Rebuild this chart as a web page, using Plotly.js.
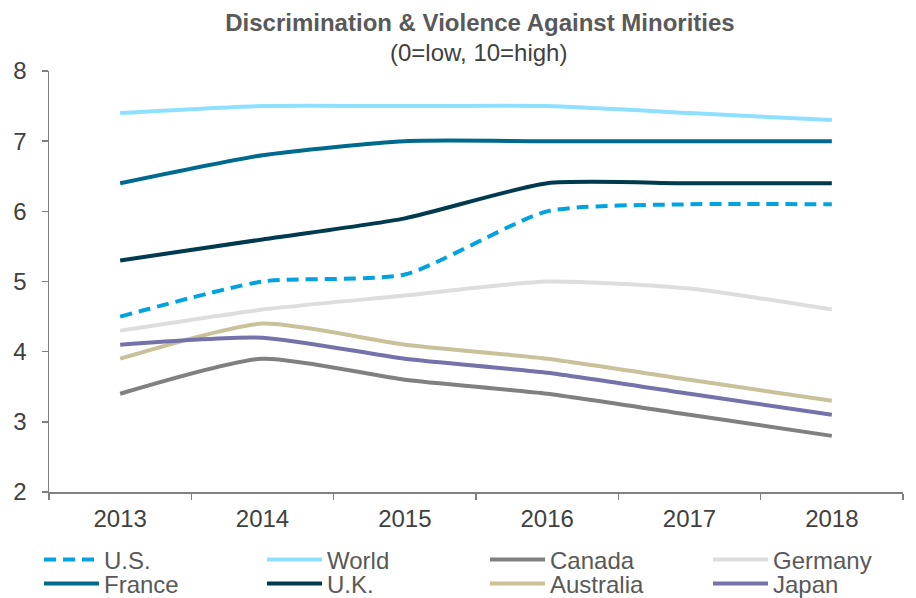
<!DOCTYPE html>
<html><head><meta charset="utf-8">
<script src="https://cdn.plot.ly/plotly-3.0.1.min.js"></script>
<style>body{margin:0;padding:0;background:#fff}#chart{width:916px;height:598px}</style>
</head><body><div id="chart"></div>
<script>
const years = ["2013","2014","2015","2016","2017","2018"];
const seriesNames = ["U.S.","World","Canada","Germany","France","U.K.","Australia","Japan"];
const usVals        = [4.5, 5.0, 5.1, 6.0, 6.1, 6.1];
const worldVals     = [7.4, 7.5, 7.5, 7.5, 7.4, 7.3];
const canadaVals    = [3.4, 3.9, 3.6, 3.4, 3.1, 2.8];
const germanyVals   = [4.3, 4.6, 4.8, 5.0, 4.9, 4.6];
const franceVals    = [6.4, 6.8, 7.0, 7.0, 7.0, 7.0];
const ukVals        = [5.3, 5.6, 5.9, 6.4, 6.4, 6.4];
const australiaVals = [3.9, 4.4, 4.1, 3.9, 3.6, 3.3];
const japanVals     = [4.1, 4.2, 3.9, 3.7, 3.4, 3.1];
const seriesValues = [usVals, worldVals, canadaVals, germanyVals, franceVals, ukVals, australiaVals, japanVals];
const colors = ["#00A3E0","#8FDFFF","#808080","#DDDDDD","#006A8E","#003A4F","#C8C19A","#7472A8"];

const legendIds = seriesNames.map((n,i)=> i===0 ? 'legend' : 'legend'+(i+1));
const traces = seriesNames.map((n,i)=>({
  type:'scatter', mode:'lines', name:n, x:years, y:seriesValues[i],
  legend: legendIds[i],
  line:{color:colors[i], width:4, shape:'spline', smoothing:0.6, dash: i===0 ? '12px,7px' : 'solid'},
  hoverinfo:'x+y+name'
}));

const font = "Arial, 'Liberation Sans', sans-serif";
const colX = [39, 262, 485, 708];
const rowY = [560, 584];
const layout = {
  width:916, height:598,
  margin:{l:49, r:13, t:71, b:106},
  paper_bgcolor:'#fff', plot_bgcolor:'#fff',
  font:{family:font, color:'#404040', size:24},
  title:{
    text:"<b>Discrimination & Violence Against Minorities</b>",
    xref:'container', x:0.524, xanchor:'center', yref:'container', y:1-23/598, yanchor:'middle',
    font:{family:font, size:24, color:'#595959'}
  },
  annotations:[{
    text:"(0=low, 10=high)", xref:'paper', x:(478-49)/854, xanchor:'center',
    yref:'paper', y:1+19/421, yanchor:'middle', showarrow:false,
    font:{family:font, size:24, color:'#404040'}
  }],
  xaxis:{
    type:'category', range:[-0.5,5.5], showgrid:false, zeroline:false,
    showline:true, linecolor:'#808080', linewidth:1.5,
    ticks:'outside', tickson:'boundaries', ticklen:6, tickcolor:'#808080', tickwidth:1.5, ticklabelstandoff:5,
    tickfont:{family:font, size:24, color:'#404040'}, fixedrange:true
  },
  yaxis:{
    range:[2,8], dtick:1, showgrid:false, zeroline:false,
    showline:true, linecolor:'#808080', linewidth:1.5,
    ticks:'outside', ticklen:6, tickcolor:'#808080', tickwidth:1.5, ticklabelstandoff:10,
    tickfont:{family:font, size:24, color:'#404040'}, fixedrange:true
  },
  showlegend:true
};
legendIds.forEach((id,i)=>{
  layout[id] = {
    orientation:'h', xref:'container', x:colX[i%4]/916, xanchor:'left',
    yref:'container', y:1-rowY[Math.floor(i/4)]/598, yanchor:'middle',
    itemwidth:55, font:{family:font, size:24, color:'#595959'},
    bgcolor:'rgba(0,0,0,0)', borderwidth:0
  };
});
Plotly.newPlot('chart', traces, layout, {displayModeBar:false, staticPlot:true});
</script>
</body></html>
